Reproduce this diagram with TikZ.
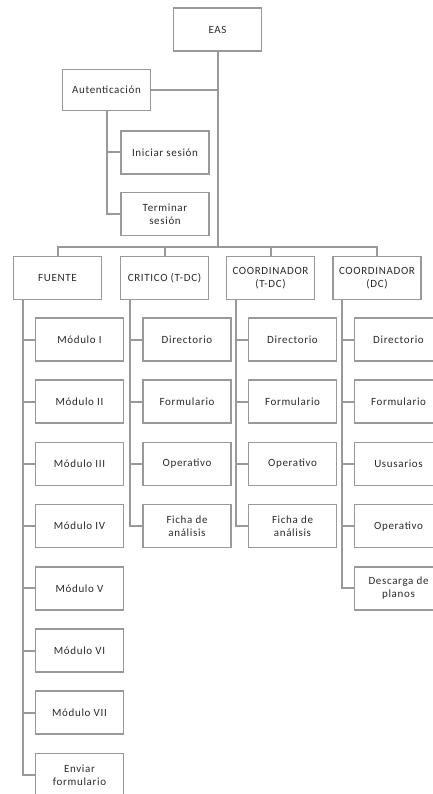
\documentclass[tikz,border=0pt]{standalone}
\usepackage{fontspec}
\setmainfont{Carlito}[LetterSpace=6]
\usepackage{tikz}
\definecolor{linegray}{HTML}{999999}
\definecolor{textgray}{HTML}{2A2A2A}
\tikzset{
  box/.style={draw=linegray, line width=1.6pt, fill=white, minimum width=88pt,
    minimum height=43pt, inner sep=1pt, align=center, text=textgray,
    font=\fontsize{11}{13}\selectfont},
  link/.style={draw=linegray, line width=2pt}
}

\begin{document}
\begin{tikzpicture}[x=1pt, y=-1pt]
      \clip (0, 0) rectangle (433, 794);
      \fill [white] (0, 0) rectangle (433, 794);

      \node (eas) at (217.5, 29.5) [box] {EAS};
      \node (aut) at (106.5, 90) [box, minimum height=41pt] {Autenticación};
      \node (ini) at (165, 152.5) [box] {Iniciar sesión};
      \node (ter) at (165, 214) [box] {Terminar\\sesión};

      \node (fuente) at (57.5, 278) [box] {FUENTE};
      \node (critico) at (164.5, 278) [box] {CRITICO (T-DC)};
      \node (ctdc) at (270.5, 278) [box] {COORDINADOR\\(T-DC)};
      \node (cdc) at (377, 278) [box] {COORDINADOR\\(DC)};

      \node (mod1) at (79.5, 339.5) [box] {Módulo I};
      \node (mod2) at (79.5, 401.7) [box] {Módulo II};
      \node (mod3) at (79.5, 463.9) [box] {Módulo III};
      \node (mod4) at (79.5, 526.1) [box] {Módulo IV};
      \node (mod5) at (79.5, 588.3) [box] {Módulo V};
      \node (mod6) at (79.5, 650.5) [box] {Módulo VI};
      \node (mod7) at (79.5, 712.7) [box] {Módulo VII};
      \node (enviar) at (79.5, 774.9) [box] {Enviar\\formulario};

      \node (crDir) at (187, 339.5) [box] {Directorio};
      \node (crForm) at (187, 401.7) [box] {Formulario};
      \node (crOper) at (187, 463.9) [box] {Operativo};
      \node (crFicha) at (187, 526.1) [box] {Ficha de\\análisis};

      \node (ctDir) at (292.5, 339.5) [box] {Directorio};
      \node (ctForm) at (292.5, 401.7) [box] {Formulario};
      \node (ctOper) at (292.5, 463.9) [box] {Operativo};
      \node (ctFicha) at (292.5, 526.1) [box] {Ficha de\\análisis};

      \node (cdDir) at (398.5, 339.5) [box] {Directorio};
      \node (cdForm) at (398.5, 401.7) [box] {Formulario};
      \node (cdUsu) at (398.5, 463.9) [box] {Ususarios};
      \node (cdOper) at (398.5, 526.1) [box] {Operativo};
      \node (cdPlanos) at (398.5, 588.3) [box] {Descarga de\\planos};

      % top part
      \coordinate (bus) at (217.5, 247);
      \draw [link] (eas) -- (bus);
      \draw [link] (aut.east) -- (aut.east -| eas.south);
      \draw [link] (aut.south) |- (ini.west);
      \draw [link] (aut.south) |- (ter.west);

      % bus to the four columns
      \draw [link] (fuente.north) |- (bus) -| (cdc.north);
      \draw [link] (critico.north) -- (critico.north |- bus);
      \draw [link] (ctdc.north) -- (ctdc.north |- bus);

      % columns
      \coordinate (fuenteL) at ([xshift=10pt]fuente.south west);
      \coordinate (criticoL) at ([xshift=10pt]critico.south west);
      \coordinate (ctdcL) at ([xshift=10pt]ctdc.south west);
      \coordinate (cdcL) at ([xshift=10pt]cdc.south west);

      \draw [link] (fuenteL) |- (mod1.west);
      \draw [link] (fuenteL) |- (mod2.west);
      \draw [link] (fuenteL) |- (mod3.west);
      \draw [link] (fuenteL) |- (mod4.west);
      \draw [link] (fuenteL) |- (mod5.west);
      \draw [link] (fuenteL) |- (mod6.west);
      \draw [link] (fuenteL) |- (mod7.west);
      \draw [link] (fuenteL) |- (enviar.west);

      \draw [link] (criticoL) |- (crDir.west);
      \draw [link] (criticoL) |- (crForm.west);
      \draw [link] (criticoL) |- (crOper.west);
      \draw [link] (criticoL) |- (crFicha.west);

      \draw [link] (ctdcL) |- (ctDir.west);
      \draw [link] (ctdcL) |- (ctForm.west);
      \draw [link] (ctdcL) |- (ctOper.west);
      \draw [link] (ctdcL) |- (ctFicha.west);

      \draw [link] (cdcL) |- (cdDir.west);
      \draw [link] (cdcL) |- (cdForm.west);
      \draw [link] (cdcL) |- (cdUsu.west);
      \draw [link] (cdcL) |- (cdOper.west);
      \draw [link] (cdcL) |- (cdPlanos.west);
    \end{tikzpicture}
\end{document}
